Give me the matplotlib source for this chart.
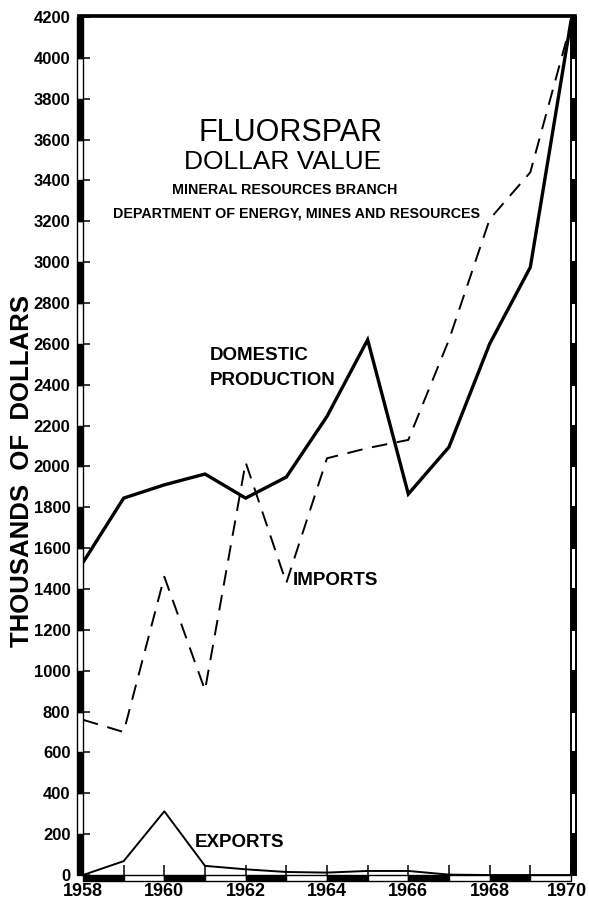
import matplotlib
matplotlib.use("Agg")
from matplotlib import pyplot as plt
from matplotlib.patches import Rectangle
from matplotlib.transforms import offset_copy

years = [1958, 1959, 1960, 1961, 1962, 1963, 1964, 1965, 1966, 1967, 1968, 1969, 1970]
domestic = [1530, 1845, 1910, 1963, 1845, 1948, 2245, 2620, 1865, 2095, 2600, 2975, 4180]
imports = [760, 700, 1460, 905, 2020, 1430, 2040, 2090, 2130, 2620, 3210, 3440, 4170]
exports = [0, 68, 312, 45, 28, 15, 12, 20, 20, 2, 0, 0, 0]

x_ticks = [1958, 1960, 1962, 1964, 1966, 1968, 1970]
y_ticks = list(range(0, 4201, 200))

FONT = "Liberation Sans"
plt.rcParams["font.family"] = FONT


def main():
    fig = plt.figure(figsize=(5.89, 9.05), dpi=100)
    ax = fig.add_axes([0.1409, 0.0331, 0.8285, 0.9481])

    ax.plot(years, domestic, color="black", lw=2.4, solid_joinstyle="miter")
    ax.plot(years, imports, color="black", lw=1.4, dashes=(8, 5))
    ax.plot(years, exports, color="black", lw=1.4)

    ax.set_xlim(1958, 1970)
    ax.set_ylim(0, 4200)
    for s in ax.spines.values():
        s.set_visible(False)

    ax.tick_params(axis="x", direction="in", length=7, width=1.1, pad=6)
    ax.tick_params(axis="y", direction="in", length=5, width=1.1, pad=9)
    ax.set_xticks(years)
    # last label drawn separately so it stays inside the canvas
    ax.set_xticklabels([str(y) if y in x_ticks[:-1] else "" for y in years],
                       fontweight="bold", fontsize=13)
    ax.text(x_ticks[-1], 0, str(x_ticks[-1]), fontweight="bold", fontsize=13,
            ha="right", va="top",
            transform=offset_copy(ax.get_xaxis_transform(), fig=fig,
                                  x=11.5, y=-6, units="points"))
    ax.set_yticks(y_ticks)
    ax.set_yticklabels([str(v) for v in y_ticks], fontweight="bold", fontsize=12)

    # checkered border bands
    xt = ax.get_xaxis_transform()
    yt = ax.get_yaxis_transform()
    bh = 0.007
    for i in range(len(years) - 1):
        fc = "black" if i % 2 == 0 else "white"
        ax.add_patch(Rectangle((years[i], -bh), years[i + 1] - years[i], bh,
                               transform=xt, fc=fc, ec="black", lw=1.0,
                               clip_on=False, zorder=5))
    bw = 0.012
    for i in range(len(y_ticks) - 1):
        fc = "black" if i % 2 == 0 else "white"
        ax.add_patch(Rectangle((-bw, y_ticks[i]), bw, y_ticks[i + 1] - y_ticks[i],
                               transform=yt, fc=fc, ec="black", lw=1.0,
                               clip_on=False, zorder=5))
        ax.add_patch(Rectangle((1.0, y_ticks[i]), bw * 0.9, y_ticks[i + 1] - y_ticks[i],
                               transform=yt, fc=fc, ec="black", lw=1.4,
                               clip_on=False, zorder=5))
    ax.add_patch(Rectangle((-bw, 1.0), 1 + bw * 1.9, 0.004,
                           transform=ax.transAxes, fc="black", ec="black",
                           lw=0.5, clip_on=False, zorder=5))

    # titles and labels
    ax.text(1963.1, 3630, "FLUORSPAR", fontsize=22, ha="center", va="center")
    ax.text(1962.9, 3490, "DOLLAR VALUE", fontsize=19, ha="center", va="center")
    ax.text(1962.95, 3353, "MINERAL RESOURCES BRANCH", fontweight="bold",
            fontsize=10.3, ha="center", va="center")
    ax.text(1963.25, 3240, "DEPARTMENT OF ENERGY, MINES AND RESOURCES",
            fontweight="bold", fontsize=10.3, ha="center", va="center")

    ax.text(1961.12, 2545, "DOMESTIC", fontweight="bold", fontsize=13.5,
            ha="left", va="center")
    ax.text(1961.12, 2423, "PRODUCTION", fontweight="bold", fontsize=13.5,
            ha="left", va="center")
    ax.text(1963.16, 1444, "IMPORTS", fontweight="bold", fontsize=13.5,
            ha="left", va="center")
    ax.text(1960.75, 157, "EXPORTS", fontweight="bold", fontsize=13.5,
            ha="left", va="center")

    fig.text(0.037, 0.48, "THOUSANDS  OF  DOLLARS", fontweight="bold",
             fontsize=18.5, rotation=90, ha="center", va="center")

    fig.savefig("out.png", dpi=100)


if __name__ == "__main__":
    main()
